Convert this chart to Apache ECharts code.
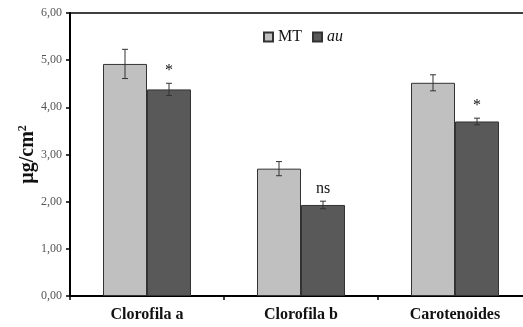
<!DOCTYPE html>
<html>
<head>
<meta charset="utf-8">
<script src="https://cdn.jsdelivr.net/npm/echarts@6/dist/echarts.min.js"></script>
<style>
  html, body { margin: 0; padding: 0; background: #fff; overflow: hidden; }
  /* the plot frame continues a little past the right edge of the view */
  #wrap { width: 523px; height: 327px; overflow: hidden; position: relative; }
  #chart { width: 560px; height: 327px; position: absolute; left: 0; top: 0; }
</style>
</head>
<body>
<div id="wrap"><div id="chart"></div></div>
<script>
// Pigment content per genotype (µg/cm²) with standard errors
const categories = ['Clorofila a', 'Clorofila b', 'Carotenoides'];
const seriesNames = ['MT', 'au'];
const mtValues = [4.92, 2.70, 4.52];
const mtErrors = [0.31, 0.15, 0.17];
const auValues = [4.38, 1.93, 3.70];
const auErrors = [0.13, 0.08, 0.07];
const significance = ['*', 'ns', '*'];
const yTicks = [0, 1, 2, 3, 4, 5, 6];

const serif = '"Liberation Serif", "Times New Roman", serif';
const BAR_W = 44;

function errorSeries(values, errors, offsetSign, marks) {
  const data = values.map((v, i) => [i, v - errors[i], v + errors[i], marks ? marks[i] : '']);
  return {
    type: 'custom',
    z: 5,
    silent: true,
    data: data,
    renderItem: function (params, api) {
      const lo = api.coord([api.value(0), api.value(1)]);
      const hi = api.coord([api.value(0), api.value(2)]);
      const x = lo[0] + offsetSign * BAR_W / 2;
      const cap = 3;
      const st = { stroke: '#333', lineWidth: 1 };
      const children = [
        { type: 'line', shape: { x1: x, y1: lo[1], x2: x, y2: hi[1] }, style: st },
        { type: 'line', shape: { x1: x - cap, y1: lo[1], x2: x + cap, y2: lo[1] }, style: st },
        { type: 'line', shape: { x1: x - cap, y1: hi[1], x2: x + cap, y2: hi[1] }, style: st }
      ];
      const mark = api.value(3);
      if (mark) {
        children.push({
          type: 'text',
          style: {
            x: x, y: hi[1] - 12, text: mark,
            align: 'center', verticalAlign: 'middle',
            font: '16px ' + serif, fill: '#111'
          }
        });
      }
      return { type: 'group', children: children };
    }
  };
}

const chart = echarts.init(document.getElementById('chart'), null, { renderer: 'canvas' });
chart.setOption({
  animation: false,
  backgroundColor: '#ffffff',
  grid: { left: 70, right: 28, top: 13, bottom: 31 },
  legend: {
    data: seriesNames,
    left: 258, top: 24,
    icon: 'rect', itemWidth: 9, itemHeight: 9, itemGap: 10,
    textStyle: {
      fontFamily: serif, fontSize: 16, color: '#111',
      rich: {
        n: { fontFamily: serif, fontSize: 16, color: '#111' },
        i: { fontFamily: serif, fontSize: 16, fontStyle: 'italic', color: '#111' }
      }
    },
    formatter: function (name) { return name === 'au' ? '{i|au}' : '{n|MT}'; }
  },
  xAxis: [
    {
      type: 'category',
      data: categories,
      axisLine: { lineStyle: { color: '#000', width: 2 } },
      axisTick: { show: true, length: 4, lineStyle: { color: '#000', width: 1.5 } },
      axisLabel: { fontFamily: serif, fontWeight: 'bold', fontSize: 16, color: '#111', margin: 11 },
      splitLine: { show: false }
    },
    {
      // top frame line
      type: 'category',
      position: 'top',
      data: categories,
      axisLine: { show: true, lineStyle: { color: '#000', width: 1.5 } },
      axisTick: { show: false },
      axisLabel: { show: false },
      splitLine: { show: false }
    }
  ],
  yAxis: {
    type: 'value',
    min: yTicks[0], max: yTicks[yTicks.length - 1], interval: 1,
    name: 'µg/cm{s|2}',
    nameLocation: 'middle', nameGap: 32,
    nameMoveOverlap: false,
    nameTextStyle: {
      fontFamily: serif, fontWeight: 'bold', fontSize: 20, color: '#111',
      rich: {
        s: { fontFamily: serif, fontWeight: 'bold', fontSize: 12, color: '#111', verticalAlign: 'top', padding: [0, 0, 9, 0] }
      }
    },
    axisLine: { show: true, lineStyle: { color: '#000', width: 2 } },
    axisTick: { show: true, length: 4, lineStyle: { color: '#000', width: 1.5 } },
    axisLabel: {
      fontFamily: serif, fontSize: 12, color: '#555', margin: 8,
      formatter: function (v) { return v.toFixed(2).replace('.', ','); }
    },
    splitLine: { show: false }
  },
  series: [
    {
      name: 'MT', type: 'bar', data: mtValues, barWidth: BAR_W, barGap: '0%',
      itemStyle: { color: '#c0c0c0', borderColor: '#333', borderWidth: 1 }
    },
    {
      name: 'au', type: 'bar', data: auValues, barWidth: BAR_W, barGap: '0%',
      itemStyle: { color: '#595959', borderColor: '#333', borderWidth: 1 }
    },
    errorSeries(mtValues, mtErrors, -1, null),
    errorSeries(auValues, auErrors, 1, significance)
  ]
});
</script>
</body>
</html>
